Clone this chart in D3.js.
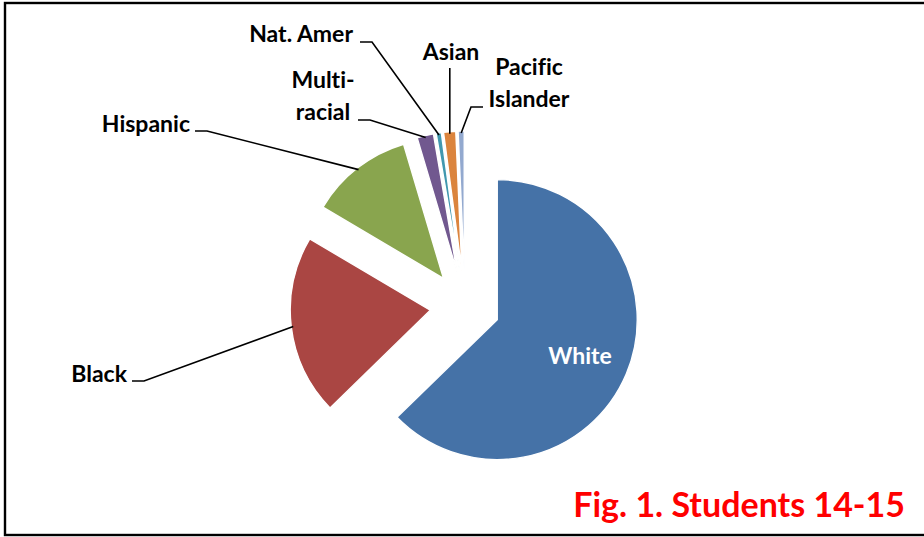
<!DOCTYPE html>
<html>
<head>
<meta charset="utf-8">
<script src="https://cdn.jsdelivr.net/npm/d3@7"></script>
<style>
  html, body { margin: 0; padding: 0; background: #fff; }
  svg { display: block; }
  text { font-variant-ligatures: none; }
  .lbl { font-family: Lato, "Open Sans", sans-serif; font-weight: 700; font-size: 23px; fill: #000; }
  .leader { fill: none; stroke: #000; stroke-width: 1.6; }
</style>
</head>
<body>
<script>
// data (percent of students)
var categories = ["White", "Black", "Hispanic", "Multi-racial", "Nat. Amer", "Asian", "Pacific Islander"];
var shares = [62.7, 20.8, 11.9, 1.9, 0.6, 1.4, 0.7];
var colors = ["#4572A7", "#AA4643", "#89A54E", "#71588F", "#4198AF", "#DB843D", "#93A9CF"];
var labelLines = [["White"], ["Black"], ["Hispanic"], ["Multi-", "racial"], ["Nat. Amer"], ["Asian"], ["Pacific", "Islander"]];
var title = "Fig. 1. Students 14-15";

// layout
var W = 924, H = 537;
var cx = 465, cy = 306, r = 140, explode = 35;
var lineH = 32;

// label placement: anchor point, text-anchor, and the little horizontal dash of the leader
var labelLayout = [
    {x: 580, y: 364, anchor: "middle", inside: true},
    {x: 127, y: 382, anchor: "end", dash: [132, 144, 381]},
    {x: 190, y: 132, anchor: "end", dash: [195, 207, 131]},
    {x: 323, y: 88, anchor: "middle", dash: [358, 370, 120]},
    {x: 353, y: 42, anchor: "end", dash: [360, 372, 42]},
    {x: 451, y: 60, anchor: "middle", vertical: 68},
    {x: 529, y: 75, anchor: "middle", dash: [483, 471, 107]}
];

var svg = d3.select("body").append("svg")
    .attr("width", W)
    .attr("height", H);

svg.append("rect")
    .attr("width", W).attr("height", H)
    .attr("fill", "#fff");

// chart frame (right edge runs off the picture)
svg.append("rect")
    .attr("x", 5).attr("y", 3)
    .attr("width", W + 20).attr("height", 532)
    .attr("fill", "none")
    .attr("stroke", "#000")
    .attr("stroke-width", 2.4);

var pie = d3.pie().sort(null).value(function (d) { return d; });
var arcs = pie(shares);

var arc = d3.arc().innerRadius(0).outerRadius(r);

function midAngle(d) { return (d.startAngle + d.endAngle) / 2; }
function dir(a) { return [Math.sin(a), -Math.cos(a)]; }

var g = svg.append("g").attr("transform", "translate(" + cx + "," + cy + ")");

g.selectAll("path.slice")
    .data(arcs)
    .enter()
    .append("path")
    .attr("class", "slice")
    .attr("d", arc)
    .attr("fill", function (d, i) { return colors[i]; })
    .attr("stroke", "#fff")
    .attr("stroke-width", 1.4)
    .attr("transform", function (d) {
        var v = dir(midAngle(d));
        return "translate(" + v[0] * explode + "," + v[1] * explode + ")";
    });

// leader lines
arcs.forEach(function (d, i) {
    var L = labelLayout[i];
    if (L.inside) return;
    var v = dir(midAngle(d));
    var ex = cx + v[0] * (explode + r - 2);
    var ey = cy + v[1] * (explode + r - 2);
    var pts;
    if (L.vertical) {
        pts = [[ex, L.vertical], [ex, ey]];
    } else {
        pts = [[L.dash[0], L.dash[2]], [L.dash[1], L.dash[2]], [ex, ey]];
    }
    svg.append("path")
        .attr("class", "leader")
        .attr("d", d3.line()(pts));
});

// labels
labelLines.forEach(function (lines, i) {
    var L = labelLayout[i];
    var t = svg.append("text")
        .attr("class", "lbl")
        .attr("text-anchor", L.anchor)
        .attr("x", L.x)
        .attr("y", L.y);
    if (L.inside) t.style("fill", "#fff");
    lines.forEach(function (s, j) {
        t.append("tspan")
            .attr("x", L.x)
            .attr("y", L.y + j * lineH)
            .text(s);
    });
});

svg.append("text")
    .attr("x", 905)
    .attr("y", 517)
    .attr("text-anchor", "end")
    .style("font-family", "Lato, 'Open Sans', sans-serif")
    .style("font-weight", "700")
    .style("font-size", "34px")
    .style("fill", "#ff0000")
    .text(title);
</script>
</body>
</html>
